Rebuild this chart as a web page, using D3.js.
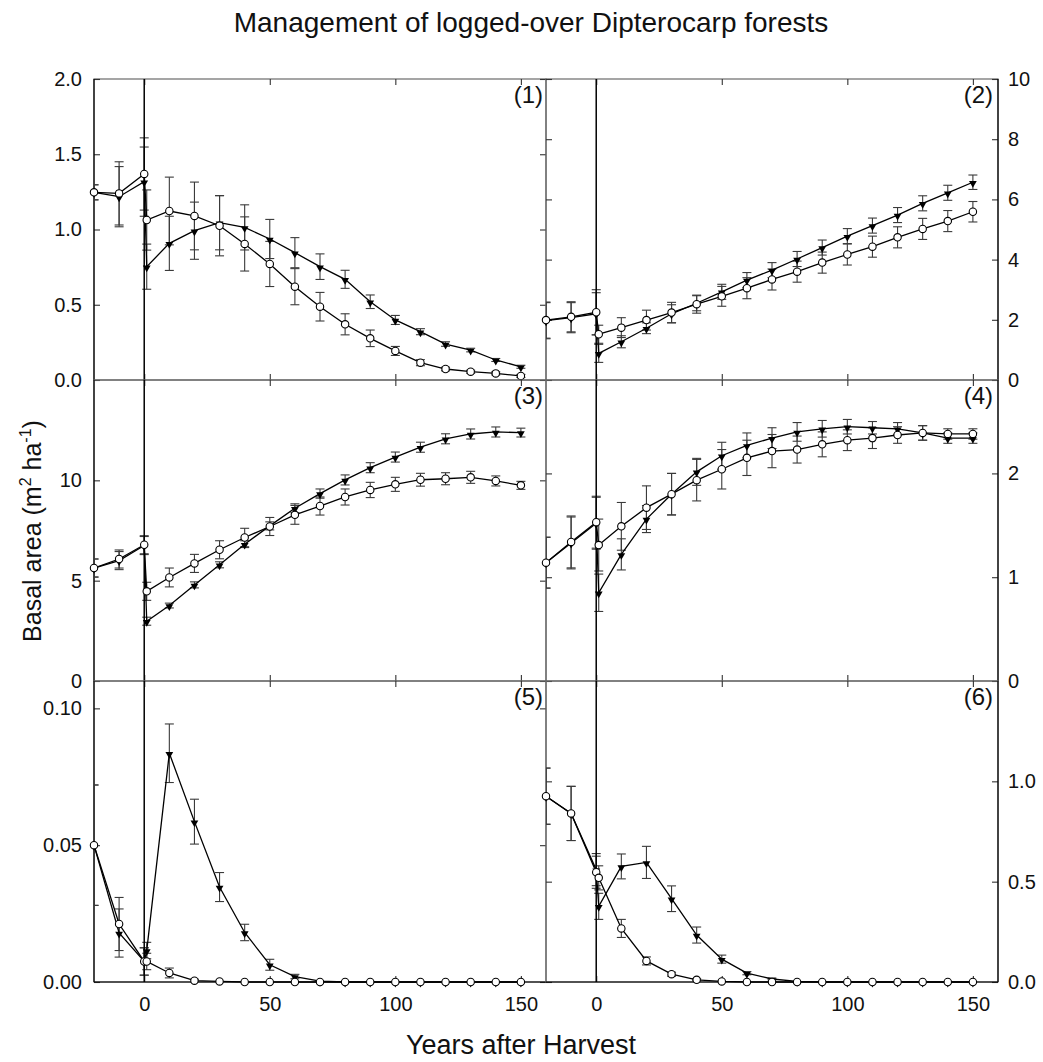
<!DOCTYPE html>
<html>
<head>
<meta charset="utf-8">
<style>
  body { margin: 0; background: #fff; }
  svg { font-family: "Liberation Sans", Arial, Helvetica, sans-serif; }
</style>
</head>
<body>
<div id="chart"></div>
<script src="https://cdn.jsdelivr.net/npm/d3@7"></script>
<script>

// years after harvest; 0 appears twice (before / just after the harvest)
var years = [-20, -10, 0, 1, 10, 20, 30, 40, 50, 60, 70, 80, 90, 100, 110, 120, 130, 140, 150];
var xTicks = [0, 50, 100, 150];

// (1)
var open1      = [1.247, 1.24, 1.369, 1.063, 1.123, 1.09, 1.025, 0.904, 0.771, 0.62, 0.487, 0.37, 0.277, 0.193, 0.115, 0.073, 0.055, 0.044, 0.027];
var openErr1   = [0.05, 0.21, 0.24, 0.2, 0.225, 0.225, 0.2, 0.18, 0.15, 0.12, 0.095, 0.07, 0.055, 0.03, 0.02, 0.012, 0.01, 0.01, 0.01];
var filled1    = [1.247, 1.218, 1.318, 0.753, 0.908, 0.992, 1.045, 1.014, 0.937, 0.846, 0.753, 0.669, 0.52, 0.399, 0.321, 0.239, 0.199, 0.133, 0.088];
var filledErr1 = [0.05, 0.2, 0.23, 0.15, 0.18, 0.19, 0.18, 0.15, 0.13, 0.1, 0.085, 0.06, 0.045, 0.03, 0.02, 0.015, 0.012, 0.01, 0.01];

// (2)
var open2      = [1.99, 2.1, 2.25, 1.52, 1.74, 1.99, 2.24, 2.52, 2.78, 3.05, 3.34, 3.6, 3.9, 4.17, 4.43, 4.74, 5.02, 5.28, 5.59];
var openErr2   = [0.6, 0.5, 0.75, 0.3, 0.33, 0.33, 0.34, 0.3, 0.33, 0.35, 0.35, 0.35, 0.35, 0.35, 0.35, 0.35, 0.35, 0.35, 0.34];
var filled2    = [1.97, 2.07, 2.2, 0.885, 1.27, 1.72, 2.2, 2.55, 2.93, 3.32, 3.65, 4.02, 4.4, 4.78, 5.13, 5.48, 5.87, 6.22, 6.57];
var filledErr2 = [0.6, 0.5, 0.7, 0.3, 0.2, 0.18, 0.3, 0.25, 0.25, 0.25, 0.25, 0.25, 0.25, 0.25, 0.25, 0.25, 0.25, 0.25, 0.24];

// (3)
var open3      = [5.63, 6.08, 6.79, 4.47, 5.16, 5.86, 6.54, 7.15, 7.7, 8.28, 8.72, 9.17, 9.52, 9.8, 10.03, 10.08, 10.15, 9.97, 9.75];
var openErr3   = [0.45, 0.45, 0.45, 0.45, 0.47, 0.45, 0.45, 0.46, 0.45, 0.47, 0.45, 0.4, 0.38, 0.35, 0.32, 0.3, 0.3, 0.25, 0.2];
var filled3    = [5.63, 6.0, 6.75, 2.98, 3.76, 4.79, 5.79, 6.82, 7.73, 8.61, 9.34, 10.02, 10.63, 11.16, 11.65, 12.07, 12.31, 12.41, 12.38];
var filledErr3 = [0.45, 0.45, 0.45, 0.2, 0.12, 0.15, 0.15, 0.17, 0.2, 0.22, 0.23, 0.25, 0.25, 0.25, 0.25, 0.25, 0.25, 0.25, 0.22];

// (4)
var open4      = [1.14, 1.34, 1.53, 1.31, 1.49, 1.67, 1.8, 1.935, 2.04, 2.15, 2.215, 2.23, 2.28, 2.32, 2.34, 2.37, 2.39, 2.38, 2.38];
var openErr4   = [0.245, 0.25, 0.25, 0.25, 0.23, 0.21, 0.2, 0.2, 0.19, 0.17, 0.16, 0.13, 0.12, 0.1, 0.1, 0.08, 0.07, 0.05, 0.05];
var filled4    = [1.14, 1.33, 1.52, 0.85, 1.22, 1.56, 1.8, 2.015, 2.17, 2.27, 2.34, 2.4, 2.43, 2.45, 2.44, 2.43, 2.39, 2.34, 2.34];
var filledErr4 = [0.245, 0.25, 0.25, 0.18, 0.15, 0.13, 0.2, 0.13, 0.13, 0.12, 0.1, 0.09, 0.08, 0.07, 0.06, 0.06, 0.07, 0.05, 0.05];

// (5)
var open5      = [0.05, 0.0212, 0.0075, 0.0075, 0.0033, 0.0005, 0.0002, 0, 0, 0, 0, 0, 0, 0, 0, 0, 0, 0, 0];
var openErr5   = [0.022, 0.0097, 0.005, 0.003, 0.0018, 0.0005, 0, 0, 0, 0, 0, 0, 0, 0, 0, 0, 0, 0, 0];
var filled5    = [0.05, 0.0179, 0.0075, 0.0115, 0.0836, 0.0586, 0.0347, 0.0181, 0.0063, 0.002, 0.0003, 0, 0, 0, 0, 0, 0, 0, 0];
var filledErr5 = [0.022, 0.0088, 0.005, 0.003, 0.0107, 0.0082, 0.0053, 0.003, 0.002, 0.0008, 0, 0, 0, 0, 0, 0, 0, 0, 0];

// (6)
var open6      = [0.926, 0.84, 0.547, 0.519, 0.267, 0.105, 0.039, 0.011, 0.003, 0, 0, 0, 0, 0, 0, 0, 0, 0, 0];
var openErr6   = [0.14, 0.135, 0.08, 0.06, 0.045, 0.02, 0.01, 0.005, 0, 0, 0, 0, 0, 0, 0, 0, 0, 0, 0];
var filled6    = [0.926, 0.84, 0.56, 0.377, 0.576, 0.596, 0.415, 0.234, 0.114, 0.044, 0.015, 0.003, 0, 0, 0, 0, 0, 0, 0];
var filledErr6 = [0.14, 0.135, 0.08, 0.065, 0.062, 0.08, 0.064, 0.04, 0.02, 0.008, 0.004, 0, 0, 0, 0, 0, 0, 0, 0];

var yMax   = [2.0, 10, 15, 2.9, 0.11, 1.5];
var yTicks = [[0, 0.5, 1, 1.5, 2], [0, 2, 4, 6, 8, 10], [0, 5, 10], [0, 1, 2], [0, 0.05, 0.1], [0, 0.5, 1]];
var yFmt   = [".1f", "d", "d", "d", ".2f", ".1f"];
var labels = ["(1)", "(2)", "(3)", "(4)", "(5)", "(6)"];

var panels = [
  {open: open1, openErr: openErr1, filled: filled1, filledErr: filledErr1},
  {open: open2, openErr: openErr2, filled: filled2, filledErr: filledErr2},
  {open: open3, openErr: openErr3, filled: filled3, filledErr: filledErr3},
  {open: open4, openErr: openErr4, filled: filled4, filledErr: filledErr4},
  {open: open5, openErr: openErr5, filled: filled5, filledErr: filledErr5},
  {open: open6, openErr: openErr6, filled: filled6, filledErr: filledErr6}
];

var width = 1043, height = 1062;
var colLeft = [94, 546], panelW = 452;
var rowTop = [79, 380, 681], panelH = 301;

var svg = d3.select("#chart").append("svg")
  .attr("width", width).attr("height", height);

var defs = svg.append("defs");

panels.forEach(function(p, i) {
  var col = i % 2, row = Math.floor(i / 2);
  var x0 = colLeft[col], y0 = rowTop[row];

  var x = d3.scaleLinear().domain([-20, 160]).range([x0, x0 + panelW]);
  var y = d3.scaleLinear().domain([0, yMax[i]]).range([y0 + panelH, y0]);

  var g = svg.append("g");

  defs.append("clipPath").attr("id", "clip" + i)
    .append("rect").attr("x", x0).attr("y", y0).attr("width", panelW).attr("height", panelH);

  // frame
  g.append("rect")
    .attr("x", x0).attr("y", y0).attr("width", panelW).attr("height", panelH)
    .attr("fill", "none").attr("stroke", "#6a6a6a").attr("stroke-width", 1.2);

  // x ticks, top and bottom, pointing inwards
  var xb = g.append("g").attr("transform", "translate(0," + (y0 + panelH) + ")")
    .call(d3.axisBottom(x).tickValues(xTicks).tickSize(-6).tickPadding(15)
      .tickFormat(row === 2 ? d3.format("d") : ""));
  var xt = g.append("g").attr("transform", "translate(0," + y0 + ")")
    .call(d3.axisTop(x).tickValues(xTicks).tickSize(-6).tickFormat(""));

  // y axis (labelled side) and mirrored ticks on the other side
  var yAxis = col === 0 ? d3.axisLeft(y) : d3.axisRight(y);
  var yMirror = col === 0 ? d3.axisRight(y) : d3.axisLeft(y);
  var ya = g.append("g").attr("transform", "translate(" + (col === 0 ? x0 : x0 + panelW) + ",0)")
    .call(yAxis.tickValues(yTicks[i]).tickSize(-6).tickPadding(col === 0 ? 12 : 10)
      .tickFormat(d3.format(yFmt[i])));
  var ym = g.append("g").attr("transform", "translate(" + (col === 0 ? x0 + panelW : x0) + ",0)")
    .call(yMirror.tickValues(yTicks[i]).tickSize(-6).tickFormat(""));

  [xb, xt, ya, ym].forEach(function(a) {
    a.select(".domain").remove();
    a.selectAll(".tick line").attr("stroke", "#333").attr("stroke-width", 1.1);
    a.selectAll(".tick text").attr("font-size", 20).attr("fill", "#111")
      .attr("font-family", "'Liberation Sans', Arial, sans-serif");
  });

  // outer axis lines in black
  var ax = col === 0 ? x0 : x0 + panelW;
  g.append("line").attr("x1", ax).attr("x2", ax).attr("y1", y0).attr("y2", y0 + panelH)
    .attr("stroke", "#000").attr("stroke-width", 1.2);
  if (row === 2) {
    g.append("line").attr("x1", x0).attr("x2", x0 + panelW)
      .attr("y1", y0 + panelH).attr("y2", y0 + panelH)
      .attr("stroke", "#000").attr("stroke-width", 1.2);
  }

  var series = [
    {vals: p.filled, err: p.filledErr, kind: "filled"},
    {vals: p.open, err: p.openErr, kind: "open"}
  ];

  // error bars
  var eb = g.append("g").attr("clip-path", "url(#clip" + i + ")")
    .attr("stroke", "#3a3a3a").attr("stroke-width", 1.1);
  series.forEach(function(s) {
    s.vals.forEach(function(v, k) {
      var e = s.err[k];
      if (!e) return;
      var cx = x(years[k]);
      eb.append("line").attr("x1", cx).attr("x2", cx).attr("y1", y(v - e)).attr("y2", y(v + e));
      [v - e, v + e].forEach(function(c) {
        eb.append("line").attr("x1", cx - 4.5).attr("x2", cx + 4.5).attr("y1", y(c)).attr("y2", y(c));
      });
    });
  });

  // harvest line at year 0
  g.append("line").attr("x1", x(0)).attr("x2", x(0)).attr("y1", y0).attr("y2", y0 + panelH)
    .attr("stroke", "#000").attr("stroke-width", 1.5);

  var line = d3.line().x(function(d, k) { return x(years[k]); }).y(function(d) { return y(d); });

  series.forEach(function(s) {
    g.append("path").datum(s.vals).attr("d", line)
      .attr("fill", "none").attr("stroke", "#000").attr("stroke-width", 1.3);
  });

  // markers
  g.append("g").selectAll("path").data(p.filled).join("path")
    .attr("d", d3.symbol(d3.symbolTriangle, 26))
    .attr("transform", function(d, k) { return "translate(" + x(years[k]) + "," + (y(d) + 1) + ") rotate(180)"; })
    .attr("fill", "#000");
  g.append("g").selectAll("circle").data(p.open).join("circle")
    .attr("cx", function(d, k) { return x(years[k]); })
    .attr("cy", function(d) { return y(d); })
    .attr("r", 3.7)
    .attr("fill", "#fff").attr("stroke", "#000").attr("stroke-width", 1.1);

  // panel number
  g.append("text")
    .attr("x", x0 + panelW - (col === 0 ? 3 : 5)).attr("y", y0 + 24)
    .attr("text-anchor", "end").attr("font-size", 24).attr("fill", "#111")
    .text(labels[i]);
});

svg.append("text")
  .attr("x", 531).attr("y", 32)
  .attr("text-anchor", "middle").attr("font-size", 28).attr("fill", "#111")
  .text("Management of logged-over Dipterocarp forests");

svg.append("text")
  .attr("x", 521).attr("y", 1054)
  .attr("text-anchor", "middle").attr("font-size", 27).attr("fill", "#111")
  .text("Years after Harvest");

var yl = svg.append("text")
  .attr("transform", "translate(41,531) rotate(-90)")
  .attr("text-anchor", "middle").attr("font-size", 25).attr("fill", "#111");
yl.append("tspan").text("Basal area (m");
yl.append("tspan").attr("font-size", 16).attr("dy", -10).text("2");
yl.append("tspan").attr("dy", 10).text(" ha");
yl.append("tspan").attr("font-size", 16).attr("dy", -10).text("-1");
yl.append("tspan").attr("dy", 10).text(")");

</script>
</body>
</html>
